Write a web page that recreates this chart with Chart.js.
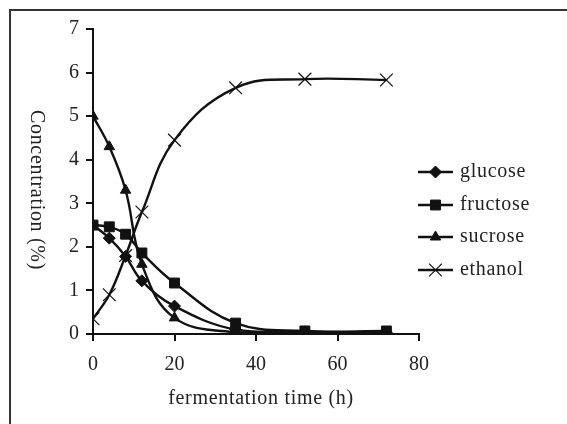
<!DOCTYPE html>
<html><head><meta charset="utf-8">
<script src="https://cdn.jsdelivr.net/npm/chart.js@4/dist/chart.umd.min.js"></script>
<style>html,body{margin:0;padding:0;background:#fff}#wrap{width:567px;height:424px;position:relative}</style>
</head><body><div id="wrap"><canvas id="c" width="567" height="424"></canvas></div>
<script>
const times    = [0, 4, 8, 12, 20, 35, 52, 72];
const glucose  = [2.5, 2.2, 1.78, 1.22, 0.64, 0.1, 0.05, 0.04];
const fructose = [2.5, 2.46, 2.29, 1.86, 1.17, 0.25, 0.07, 0.07];
const sucrose  = [5.0, 4.3, 3.3, 1.6, 0.37, 0.04, 0.04, 0.04];
const ethanol  = [0.35, 0.9, 1.8, 2.8, 4.45, 5.65, 5.85, 5.83];
const seriesNames = ['glucose', 'fructose', 'sucrose', 'ethanol'];
const xTitle = 'fermentation time (h)';
const yTitle = 'Concentration (%)';

const FONT = 'Liberation Serif';
const FS = 20;
const pts = arr => arr.map((v, i) => ({x: times[i], y: v}));

function ds(label, data, style, radius, bw) {
  return {label, data: pts(data), borderColor: '#111', backgroundColor: '#111',
    borderWidth: 2.4, pointStyle: style, pointRadius: radius, pointHoverRadius: radius,
    pointBorderWidth: bw, pointBorderColor: '#111', pointBackgroundColor: '#111',
    tension: 0.4, fill: false};
}

const framePlugin = {
  id: 'frame',
  beforeDraw(chart) {
    const ctx = chart.ctx;
    ctx.save();
    ctx.strokeStyle = '#333';
    ctx.lineWidth = 2;
    ctx.strokeRect(10, 10, 700, 600);
    ctx.restore();
  },
  afterDraw(chart) {
    const ctx = chart.ctx;
    ctx.save();
    ctx.fillStyle = '#222';
    ctx.font = FS + 'px "' + FONT + '"';
    ctx.letterSpacing = '0.7px';
    ctx.textAlign = 'center';
    ctx.textBaseline = 'middle';
    ctx.fillText(xTitle, 261, 399);
    ctx.translate(36, 190);
    ctx.rotate(Math.PI / 2);
    ctx.fillText(yTitle, 0, 0);
    ctx.restore();
    // legend
    ctx.save();
    const ys = [172, 205, 237, 270];
    chart.data.datasets.forEach((d, i) => {
      const y = ys[i];
      ctx.strokeStyle = '#111';
      ctx.lineWidth = 2.4;
      ctx.beginPath(); ctx.moveTo(418, y); ctx.lineTo(453, y); ctx.stroke();
      ctx.lineWidth = d.pointBorderWidth;
      ctx.fillStyle = '#111';
      Chart.helpers.drawPoint(ctx, {pointStyle: d.pointStyle, radius: d.pointRadius, borderWidth: d.pointBorderWidth, rotation: 0}, 435.5, y);
      ctx.fillStyle = '#222';
      ctx.font = FS + 'px "' + FONT + '"';
      ctx.letterSpacing = '0.7px';
      ctx.textAlign = 'left';
      ctx.textBaseline = 'middle';
      ctx.fillText(d.label, 460, y);
    });
    ctx.restore();
  }
};

new Chart(document.getElementById('c'), {
  type: 'line',
  data: {datasets: [
    ds(seriesNames[0], glucose, 'rectRot', 6, 1),
    ds(seriesNames[1], fructose, 'rect', 7, 1),
    ds(seriesNames[2], sucrose, 'triangle', 6, 1),
    ds(seriesNames[3], ethanol, 'crossRot', 9, 1.2)
  ]},
  options: {
    responsive: false, animation: false, devicePixelRatio: 1,
    layout: {padding: {left: 0, top: 29, right: 148, bottom: 0}},
    plugins: {legend: {display: false}, tooltip: {enabled: false}},
    scales: {
      x: {type: 'linear', min: 0, max: 80,
        ticks: {stepSize: 20, color: '#222', font: {family: FONT, size: FS}, padding: 12, maxRotation: 0},
        grid: {drawOnChartArea: false, drawTicks: true, tickLength: 7, color: '#111', lineWidth: 2},
        border: {color: '#111', width: 2},
        afterFit(s) { s.height = 90; }
      },
      y: {min: 0, max: 7,
        ticks: {stepSize: 1, color: '#222', font: {family: FONT, size: FS}, padding: 7},
        grid: {drawOnChartArea: false, drawTicks: true, tickLength: 7, color: '#111', lineWidth: 2},
        border: {color: '#111', width: 2},
        afterFit(s) { s.width = 93; }
      }
    }
  },
  plugins: [framePlugin]
});
</script></body></html>
